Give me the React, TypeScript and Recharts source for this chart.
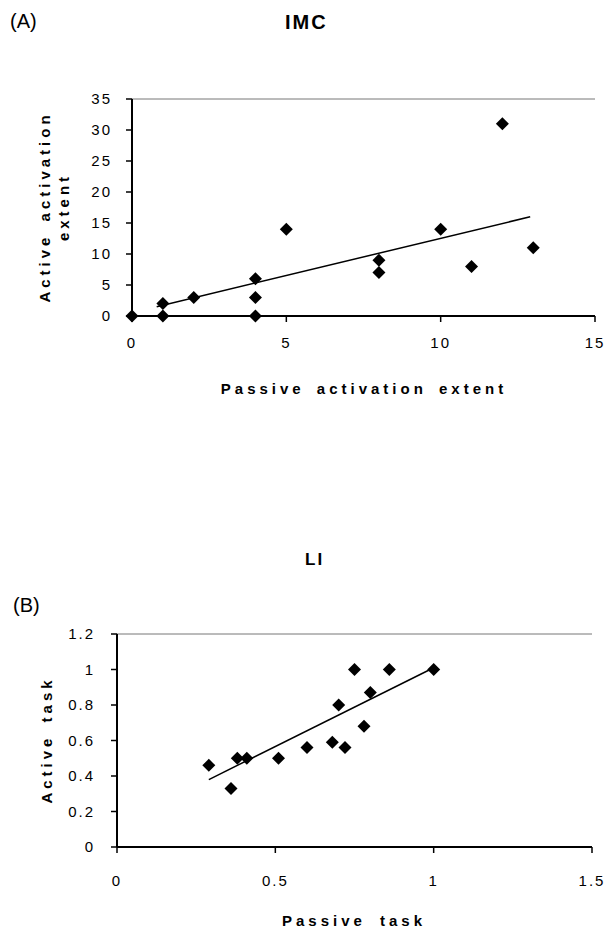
import { ScatterChart, Scatter, XAxis, YAxis, ReferenceLine } from 'recharts';

// (A) IMC
const imcPassive = [0, 1, 1, 2, 4, 4, 4, 5, 8, 8, 10, 11, 12, 13];
const imcActive = [0, 0, 2, 3, 6, 3, 0, 14, 9, 7, 14, 8, 31, 11];
const imcTrendX = [0.8, 12.9];
const imcTrendY = [1.5, 16.0];
const imcXTicks = [0, 5, 10, 15];
const imcYTicks = [0, 5, 10, 15, 20, 25, 30, 35];

// (B) LI
const liPassive = [0.29, 0.36, 0.38, 0.41, 0.51, 0.6, 0.68, 0.7, 0.72, 0.75, 0.78, 0.8, 0.86, 1.0];
const liActive = [0.46, 0.33, 0.5, 0.5, 0.5, 0.56, 0.59, 0.8, 0.56, 1.0, 0.68, 0.87, 1.0, 1.0];
const liTrendX = [0.29, 1.0];
const liTrendY = [0.38, 1.01];
const liXTicks = [0, 0.5, 1, 1.5];
const liYTicks = [0, 0.2, 0.4, 0.6, 0.8, 1, 1.2];

const zip = (xs: number[], ys: number[]) => xs.map((x, i) => ({ x, y: ys[i] }));

const FONT = '"Liberation Sans", Arial, sans-serif';

const Diamond = (props: any) => {
  const { cx, cy } = props;
  const r = 6.5;
  return (
    <polygon
      points={`${cx},${cy - r} ${cx + r},${cy} ${cx},${cy + r} ${cx - r},${cy}`}
      fill="#000"
    />
  );
};

const NoShape = () => <g />;

const tickStyle = { fontSize: 15, fill: '#000', fontFamily: FONT, letterSpacing: 2 };
const axisLine = { stroke: '#000', strokeWidth: 2 };
const tickLine = { stroke: '#000', strokeWidth: 1.5 };

const label = (extra: React.CSSProperties): React.CSSProperties => ({
  position: 'absolute',
  fontFamily: FONT,
  lineHeight: 1,
  whiteSpace: 'nowrap',
  color: '#000',
  ...extra,
});

const rotated = (cx: number, cy: number): React.CSSProperties =>
  label({
    left: cx,
    top: cy,
    fontSize: 15,
    fontWeight: 'bold',
    letterSpacing: 4,
    wordSpacing: 4,
    transform: 'translate(-50%, -50%) rotate(-90deg)',
  });

export default function App() {
  return (
    <div style={{ position: 'absolute', left: 0, top: 0, width: 607, height: 930, background: '#fff' }}>
      <div style={label({ left: 10, top: 11, fontSize: 20 })}>(A)</div>
      <div style={label({ left: 285, top: 12, fontSize: 20, fontWeight: 'bold', letterSpacing: 2 })}>IMC</div>

      <div style={{ position: 'absolute', left: 0, top: 0 }}>
        <ScatterChart width={607} height={410} margin={{ top: 99, right: 12, bottom: 64, left: 82 }}>
          <XAxis
            type="number"
            dataKey="x"
            domain={[0, 15]}
            ticks={imcXTicks}
            height={30}
            tickSize={6}
            tickMargin={15}
            tick={tickStyle}
            axisLine={axisLine}
            tickLine={tickLine}
          />
          <YAxis
            type="number"
            dataKey="y"
            domain={[0, 35]}
            ticks={imcYTicks}
            width={50}
            tickSize={6}
            tickMargin={14}
            tick={tickStyle}
            axisLine={axisLine}
            tickLine={tickLine}
          />
          <ReferenceLine y={35} stroke="#777" strokeWidth={1} />
          <Scatter data={zip(imcTrendX, imcTrendY)} line={{ stroke: '#000', strokeWidth: 1.5 }} shape={NoShape} isAnimationActive={false} />
          <Scatter data={zip(imcPassive, imcActive)} shape={Diamond} isAnimationActive={false} />
        </ScatterChart>
      </div>

      <div style={rotated(44, 207)}>Active activation</div>
      <div style={rotated(63, 207)}>extent</div>
      <div style={label({ left: 214, width: 300, textAlign: 'center', top: 381, fontSize: 15, fontWeight: 'bold', letterSpacing: 4, wordSpacing: 4 })}>
        Passive activation extent
      </div>

      <div style={label({ left: 305, top: 551, fontSize: 17, fontWeight: 'bold', letterSpacing: 2 })}>LI</div>
      <div style={label({ left: 13, top: 595, fontSize: 20 })}>(B)</div>

      <div style={{ position: 'absolute', left: 0, top: 540 }}>
        <ScatterChart width={607} height={390} margin={{ top: 94, right: 15, bottom: 43, left: 67 }}>
          <XAxis
            type="number"
            dataKey="x"
            domain={[0, 1.5]}
            ticks={liXTicks}
            height={40}
            tickSize={6}
            tickMargin={22}
            tick={tickStyle}
            axisLine={axisLine}
            tickLine={tickLine}
          />
          <YAxis
            type="number"
            dataKey="y"
            domain={[0, 1.2]}
            ticks={liYTicks}
            width={50}
            tickSize={6}
            tickMargin={16}
            tick={tickStyle}
            axisLine={axisLine}
            tickLine={tickLine}
          />
          <ReferenceLine y={1.2} stroke="#777" strokeWidth={1} />
          <Scatter data={zip(liTrendX, liTrendY)} line={{ stroke: '#000', strokeWidth: 1.5 }} shape={NoShape} isAnimationActive={false} />
          <Scatter data={zip(liPassive, liActive)} shape={Diamond} isAnimationActive={false} />
        </ScatterChart>
      </div>

      <div style={rotated(46, 740)}>Active task</div>
      <div style={label({ left: 279, width: 150, textAlign: 'center', top: 913, fontSize: 15, fontWeight: 'bold', letterSpacing: 4, wordSpacing: 6 })}>
        Passive task
      </div>
    </div>
  );
}
